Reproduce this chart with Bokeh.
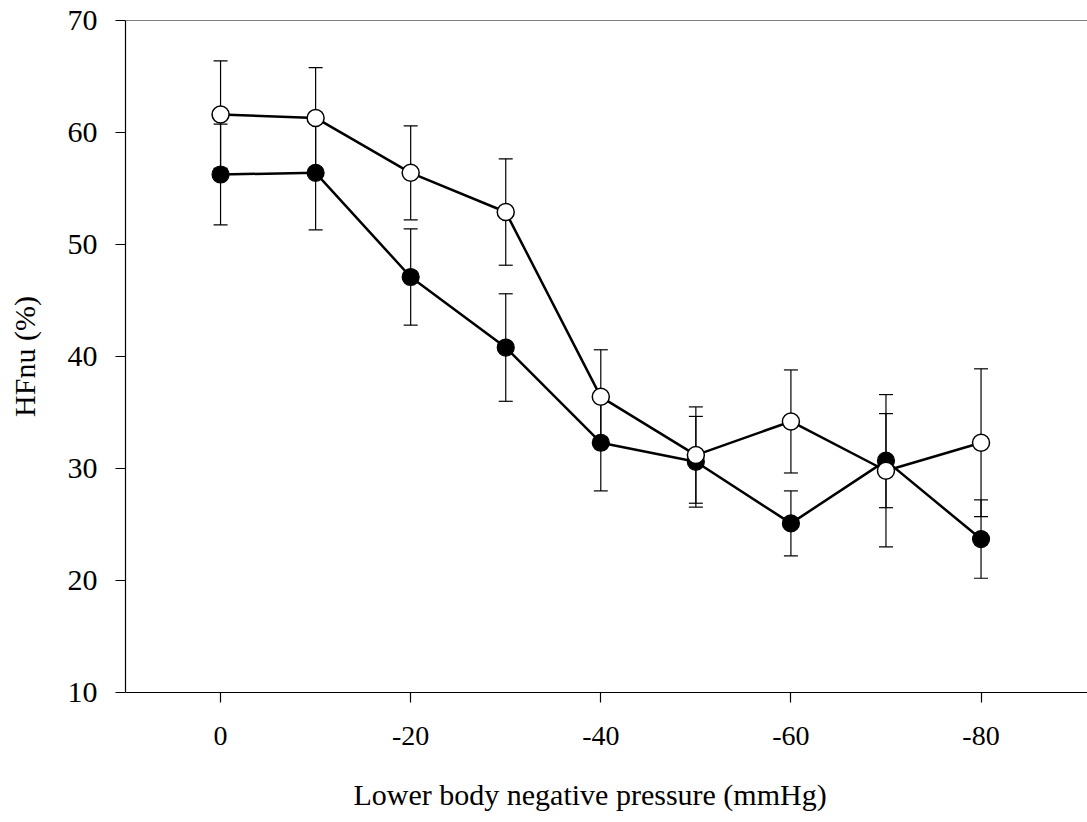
from bokeh.plotting import figure
from bokeh.models import (ColumnDataSource, Whisker, TeeHead, Span, Range1d, FixedTicker, Title,
                          LinearAxis)
from bokeh.embed import file_html
from bokeh.resources import INLINE

# Data
pressure = [0, -10, -20, -30, -40, -50, -60, -70, -80]
open_mean = [61.6, 61.3, 56.4, 52.9, 36.4, 31.2, 34.2, 29.8, 32.3]
open_err = [4.8, 4.5, 4.2, 4.75, 4.2, 4.3, 4.6, 6.8, 6.6]
filled_mean = [56.25, 56.4, 47.1, 40.8, 32.3, 30.6, 25.1, 30.7, 23.7]
filled_err = [4.5, 5.1, 4.3, 4.8, 4.3, 4.05, 2.9, 4.2, 3.5]
x_ticks = [0, -20, -40, -60, -80]
x_tick_labels = ["0", "-20", "-40", "-60", "-80"]
y_ticks = [10, 20, 30, 40, 50, 60, 70]
x_title = "Lower body negative pressure (mmHg)"
y_title = "HFnu (%)"

FONT = "Liberation Serif"

p = figure(width=1087, height=822, output_backend="svg", toolbar_location=None,
           x_range=Range1d(10, -91.2), y_range=Range1d(10, 70),
           min_border_left=125, min_border_right=0, min_border_top=20, min_border_bottom=130)
p.outline_line_color = None
p.xgrid.visible = False
p.ygrid.visible = False
p.background_fill_color = "white"
p.border_fill_color = "white"

src_f = ColumnDataSource(dict(x=pressure, y=filled_mean,
                              lo=[m - e for m, e in zip(filled_mean, filled_err)],
                              hi=[m + e for m, e in zip(filled_mean, filled_err)]))
src_o = ColumnDataSource(dict(x=pressure, y=open_mean,
                              lo=[m - e for m, e in zip(open_mean, open_err)],
                              hi=[m + e for m, e in zip(open_mean, open_err)]))

for src in (src_f, src_o):
    w = Whisker(source=src, base="x", upper="hi", lower="lo", level="underlay",
                line_color="black", line_width=1.2,
                upper_head=TeeHead(size=14, line_color="black", line_width=1.2),
                lower_head=TeeHead(size=14, line_color="black", line_width=1.2))
    p.add_layout(w)

p.line("x", "y", source=src_f, line_color="black", line_width=2.5)
p.line("x", "y", source=src_o, line_color="black", line_width=2.5)
p.scatter("x", "y", source=src_f, size=17, marker="circle", fill_color="black", line_color="black", line_width=1.2)
p.scatter("x", "y", source=src_o, size=17, marker="circle", fill_color="white", line_color="black", line_width=1.5)

p.add_layout(Span(location=70, dimension="width", line_color="black", line_width=1.2))

# Axes
p.xaxis.ticker = FixedTicker(ticks=x_ticks)
p.xaxis.major_label_overrides = {t: l for t, l in zip(x_ticks, x_tick_labels)}
p.yaxis.ticker = FixedTicker(ticks=y_ticks)
for ax in (p.xaxis, p.yaxis):
    ax.minor_tick_line_color = None
    ax.axis_line_color = "black"
    ax.axis_line_width = 1.2
    ax.major_tick_line_color = "black"
    ax.major_tick_line_width = 1.2
    ax.major_tick_in = 0
    ax.major_label_text_font = FONT
    ax.major_label_text_color = "black"
    ax.axis_label_text_font = FONT
    ax.axis_label_text_font_style = "normal"
    ax.axis_label_text_color = "black"

p.xaxis.major_tick_out = 10
p.xaxis.major_label_standoff = 24
p.xaxis.major_label_text_font_size = "28px"

p.yaxis.major_tick_out = 10
p.yaxis.major_label_standoff = 18
p.yaxis.major_label_text_font_size = "30px"
p.yaxis.axis_label = y_title
p.yaxis.axis_label_text_font_size = "30px"
p.yaxis.axis_label_standoff = 24

# invisible spacer axis (one hidden tick) to push the x title down
spacer = LinearAxis(ticker=FixedTicker(ticks=[x_ticks[0]]), axis_line_color=None,
                    major_tick_out=18, major_tick_in=0, minor_tick_out=0, minor_tick_in=0,
                    major_tick_line_color=None, minor_tick_line_color=None,
                    major_label_overrides={x_ticks[0]: " "},
                    major_label_text_font_size="1px", major_label_standoff=0)
p.add_layout(spacer, "below")

# x-axis title, placed slightly left of frame centre as in the original
t = Title(text=x_title, align="left", offset=228, text_font=FONT, text_font_size="30px",
          text_font_style="normal", text_color="black", standoff=12)
p.add_layout(t, "below")

open("out.html", "w").write(file_html(p, INLINE))
